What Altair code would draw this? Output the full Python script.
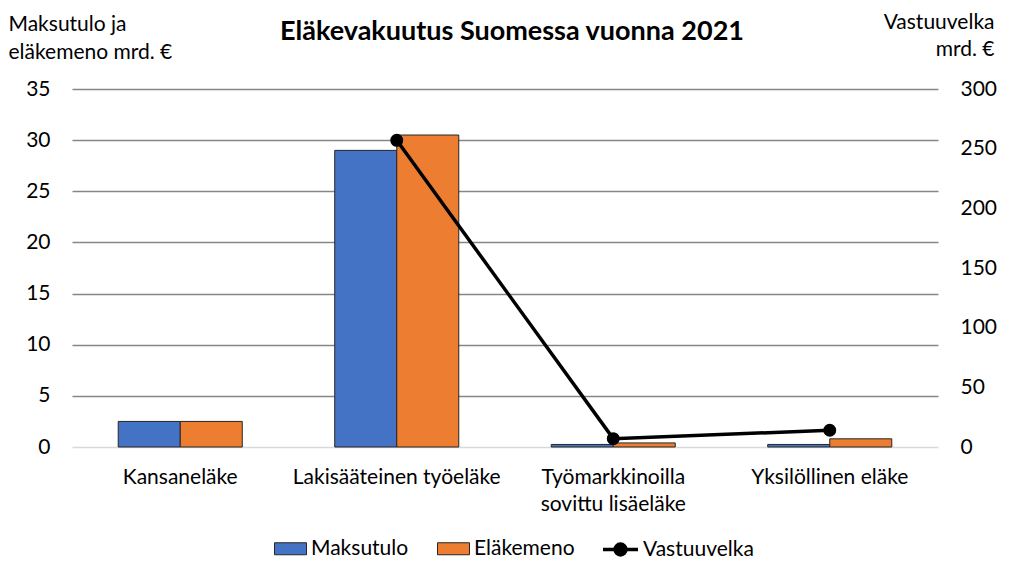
import altair as alt
import pandas as pd

categories = ["Kansaneläke", "Lakisääteinen työeläke", "Työmarkkinoilla sovittu lisäeläke", "Yksilöllinen eläke"]
maksutulo = [2.5, 29.0, 0.25, 0.25]
elakemeno = [2.5, 30.5, 0.4, 0.8]
vastuuvelka = [None, 257, 7, 14]

bar_series = ["Maksutulo", "Eläkemeno"]
bar_colors = ["#4472C4", "#ED7D31"]

rows = []
for c, m, e in zip(categories, maksutulo, elakemeno):
    rows.append({"cat": c, "series": "Maksutulo", "value": m})
    rows.append({"cat": c, "series": "Eläkemeno", "value": e})
bars_df = pd.DataFrame(rows)
line_df = pd.DataFrame([{"cat": c, "series": "Vastuuvelka", "v": v} for c, v in zip(categories, vastuuvelka) if v is not None])

FONT = "Lato"
FS = 21

xenc = alt.X("cat:N", sort=categories,
             scale=alt.Scale(paddingInner=0.427, paddingOuter=0.2135),
             axis=alt.Axis(title=None, labelAngle=0, ticks=False, domain=False,
                           labelFontSize=FS, labelFont=FONT, labelColor="#000000",
                           labelPadding=19, labelLineHeight=27, labelLimit=300,
                           labelExpr="datum.label == 'Työmarkkinoilla sovittu lisäeläke' ? ['Työmarkkinoilla', 'sovittu lisäeläke'] : datum.label"))

bars = alt.Chart(bars_df).mark_bar(stroke="#262626", strokeWidth=1).encode(
    x=xenc,
    xOffset=alt.XOffset("series:N", sort=bar_series, scale=alt.Scale(paddingInner=0, paddingOuter=0)),
    y=alt.Y("value:Q", scale=alt.Scale(domain=[0, 35]),
            axis=alt.Axis(values=[0, 5, 10, 15, 20, 25, 30, 35], ticks=False, domain=False,
                          grid=True,
                          gridColor={"condition": {"test": "datum.value === 0", "value": "#d9d9d9"}, "value": "#868686"},
                          gridWidth=1.3,
                          labelFontSize=FS, labelFont=FONT, labelColor="#000000", labelPadding=22,
                          title=["Maksutulo ja", "eläkemeno mrd. €"], titleAngle=0,
                          titleAlign="left", titleBaseline="alphabetic",
                          titleX=-64, titleY=-59, titleFontSize=FS, titleFont=FONT,
                          titleFontWeight="normal", titleColor="#000000", titleLineHeight=28)),
    fill=alt.Fill("series:N", sort=bar_series,
                  scale=alt.Scale(domain=bar_series, range=bar_colors),
                  legend=alt.Legend(title=None, orient="none", direction="horizontal",
                                    legendX=202, legendY=443,
                                    symbolType="M-1,-0.375H1V0.375H-1Z", symbolSize=1024,
                                    symbolStrokeColor="#262626", symbolStrokeWidth=1,
                                    labelFontSize=FS, labelFont=FONT, labelColor="#000000",
                                    labelOffset=4, columnPadding=26)),
)

line = alt.Chart(line_df).mark_line(strokeWidth=3.5, point=alt.OverlayMarkDef(size=120, filled=True, color="#000000")).encode(
    x=alt.X("cat:N", sort=categories),
    y=alt.Y("v:Q", scale=alt.Scale(domain=[0, 300]),
            axis=alt.Axis(orient="right", values=[0, 50, 100, 150, 200, 250, 300], ticks=False,
                          domain=False, grid=False,
                          labelFontSize=FS, labelFont=FONT, labelColor="#000000", labelPadding=22,
                          title=["Vastuuvelka", "mrd. €"], titleAngle=0,
                          titleAlign="right", titleBaseline="alphabetic",
                          titleX=56, titleY=-61, titleFontSize=FS, titleFont=FONT,
                          titleFontWeight="normal", titleColor="#000000", titleLineHeight=27)),
    stroke=alt.Stroke("series:N", scale=alt.Scale(domain=["Vastuuvelka"], range=["#000000"]),
                      legend=alt.Legend(title=None, orient="none", direction="horizontal",
                                        legendX=529, legendY=441,
                                        symbolType="M-1,0H1M0.31,0A0.31,0.31 0 1 1 -0.31,0A0.31,0.31 0 1 1 0.31,0",
                                        symbolSize=1225, symbolStrokeWidth=3.5,
                                        symbolFillColor="#000000",
                                        labelFontSize=FS, labelFont=FONT, labelColor="#000000",
                                        labelOffset=3)),
)

chart = alt.layer(bars, line).resolve_scale(y="independent", stroke="independent", fill="independent").properties(
    width=866, height=358,
    background="white",
    autosize=alt.AutoSizeParams(type="none"),
    padding={"left": 64, "top": 81, "right": 78, "bottom": 123},
    title=alt.TitleParams("Eläkevakuutus Suomessa vuonna 2021", fontSize=27, font=FONT,
                          fontWeight="bold", color="#000000", anchor="middle", dx=7, offset=-35),
).configure_view(stroke=None)

chart.save("out.html", embed_options={"renderer": "svg", "actions": False})
